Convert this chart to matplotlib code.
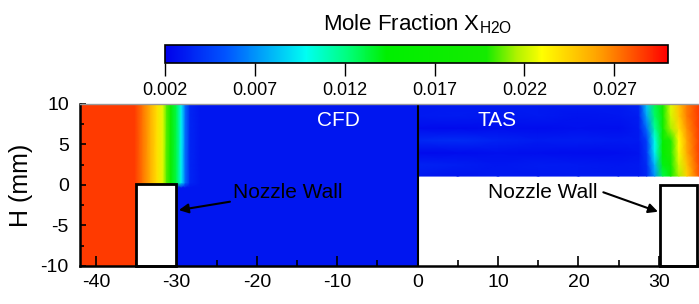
import numpy as np
import matplotlib
matplotlib.use("Agg")
import matplotlib.pyplot as plt
import matplotlib.colors as mcolors
import matplotlib.patches as mpatches
from matplotlib.ticker import MultipleLocator

plt.rcParams["font.family"] = ["Liberation Sans", "DejaVu Sans"]
plt.rcParams["axes.unicode_minus"] = False

# ── Data ──────────────────────────────────────────────────────────────────────
VMIN, VMAX = 0.002, 0.030
CBAR_TICKS = [0.002, 0.007, 0.012, 0.017, 0.022, 0.027]

# CFD half: columns along x, two profiles (below / above the nozzle lip)
cfd_x = [-42, -35.2, -34.2, -33.2, -32.4, -31.7, -31.2, -30.7, -30.0,
         -29.4, -28.9, -28.3, -27.0, 0]
cfd_y = [-10, -0.3, 0.3, 10]
cfd_above = [0.0286, 0.0286, 0.0272, 0.0255, 0.0240, 0.0225, 0.0205, 0.0180,
             0.0130, 0.0095, 0.0060, 0.0035, 0.0029, 0.0029]
cfd_below = [0.0286, 0.0286, 0.0286, 0.0286, 0.0286, 0.0286, 0.0286, 0.0029,
             0.0029, 0.0029, 0.0029, 0.0029, 0.0029, 0.0029]

# TAS half: measured region above y = 1.1 mm
tas_x = [0, 5, 10, 15, 20, 25, 27.5, 28.5, 29.5, 30.5, 31.5, 32.5, 33.5, 35]
tas_y = [1.1, 2.5, 4.0, 5.5, 7.0, 8.5, 10]
tas_rows = [
    [0.0030, 0.0028, 0.0030, 0.0029, 0.0030, 0.0030, 0.0030, 0.0035, 0.0070, 0.0130, 0.0180, 0.0215, 0.0245, 0.0280],
    [0.0034, 0.0032, 0.0029, 0.0031, 0.0030, 0.0029, 0.0030, 0.0038, 0.0080, 0.0140, 0.0190, 0.0222, 0.0250, 0.0283],
    [0.0024, 0.0025, 0.0027, 0.0026, 0.0025, 0.0026, 0.0028, 0.0042, 0.0095, 0.0155, 0.0200, 0.0228, 0.0258, 0.0285],
    [0.0036, 0.0038, 0.0034, 0.0031, 0.0032, 0.0030, 0.0030, 0.0045, 0.0100, 0.0160, 0.0200, 0.0230, 0.0260, 0.0285],
    [0.0025, 0.0024, 0.0026, 0.0025, 0.0027, 0.0026, 0.0030, 0.0060, 0.0115, 0.0175, 0.0215, 0.0240, 0.0265, 0.0286],
    [0.0030, 0.0031, 0.0029, 0.0030, 0.0028, 0.0029, 0.0032, 0.0075, 0.0125, 0.0182, 0.0222, 0.0248, 0.0270, 0.0286],
    [0.0029, 0.0030, 0.0031, 0.0030, 0.0030, 0.0030, 0.0035, 0.0085, 0.0130, 0.0185, 0.0225, 0.0250, 0.0270, 0.0286],
]

# Nozzle walls (x0, x1, top)
wall_cfd = (-35.0, -30.0, 0.1)
wall_tas = (30.1, 34.8, 0.0)

# ── Colormap (Tecplot-like rainbow) ───────────────────────────────────────────
cmap = mcolors.LinearSegmentedColormap.from_list("rainbow_tp", [
    (0.00, (0.00, 0.00, 0.92)),
    (0.12, (0.00, 0.33, 1.00)),
    (0.28, (0.00, 1.00, 0.95)),
    (0.36, (0.00, 1.00, 0.50)),
    (0.44, (0.00, 0.94, 0.00)),
    (0.64, (0.08, 0.92, 0.00)),
    (0.70, (0.70, 0.95, 0.00)),
    (0.75, (1.00, 1.00, 0.00)),
    (0.87, (1.00, 0.60, 0.00)),
    (1.00, (1.00, 0.00, 0.00)),
], N=512)
norm = mcolors.Normalize(vmin=VMIN, vmax=VMAX)

# ── Figure ────────────────────────────────────────────────────────────────────
fig = plt.figure(figsize=(6.99, 3.04), dpi=100)
ax = fig.add_axes([0.1144, 0.125, 0.8856, 0.533])

Xc, Yc = np.meshgrid(cfd_x, cfd_y)
Cc = np.array([cfd_below, cfd_below, cfd_above, cfd_above])
ax.pcolormesh(Xc, Yc, Cc, cmap=cmap, norm=norm, shading="gouraud", zorder=1)

Xt, Yt = np.meshgrid(tas_x, tas_y)
ax.pcolormesh(Xt, Yt, np.array(tas_rows), cmap=cmap, norm=norm,
              shading="gouraud", zorder=1)

for x0, x1, top in (wall_cfd, wall_tas):
    ax.add_patch(mpatches.Rectangle((x0, -10), x1 - x0, top + 10,
                                    facecolor="white", edgecolor="black",
                                    lw=2.0, zorder=3, clip_on=False))

ax.axvline(0, color="black", lw=1.5, zorder=4)

ax.set_xlim(-42, 35)
ax.set_ylim(-10, 10)
ax.xaxis.set_major_locator(MultipleLocator(10))
ax.xaxis.set_minor_locator(MultipleLocator(5))
ax.yaxis.set_major_locator(MultipleLocator(5))
ax.yaxis.set_minor_locator(MultipleLocator(2.5))
ax.tick_params(axis="both", which="both", direction="in", labelsize=14,
               top=False, right=False, width=1.2, zorder=5)
ax.tick_params(axis="x", which="major", length=7, pad=6)
ax.tick_params(axis="x", which="minor", length=4)
ax.tick_params(axis="y", which="major", length=4, pad=8)
ax.tick_params(axis="y", which="minor", length=3)

ax.spines["right"].set_visible(False)
ax.spines["top"].set_color("#999999")
ax.spines["top"].set_linewidth(1.0)
ax.spines["left"].set_linewidth(1.8)
ax.spines["bottom"].set_linewidth(1.8)
for s in ax.spines.values():
    s.set_zorder(6)

fig.text(0.030, 0.391, "H (mm)", rotation=90, ha="center", va="center",
         fontsize=18)

ax.text(-9.8, 7.9, "CFD", color="white", fontsize=15, ha="center",
        va="center", zorder=5)
ax.text(9.9, 8.0, "TAS", color="white", fontsize=15, ha="center",
        va="center", zorder=5)

arrow = dict(arrowstyle="-|>", color="black", lw=1.5, mutation_scale=14,
             shrinkA=0, shrinkB=0)
ax.annotate("Nozzle Wall", xy=(-29.7, -3.1), xytext=(-23.0, -0.9),
            ha="left", va="center", fontsize=15, arrowprops=arrow, zorder=5)
ax.annotate("Nozzle Wall", xy=(29.9, -3.3), xytext=(8.8, -0.9),
            ha="left", va="center", fontsize=15, zorder=5)
ax.annotate("", xy=(29.9, -3.3), xytext=(23.1, -0.9), arrowprops=arrow,
            zorder=5)

# ── Colorbar ──────────────────────────────────────────────────────────────────
cax = fig.add_axes([0.236, 0.793, 0.720, 0.059])
sm = plt.cm.ScalarMappable(norm=norm, cmap=cmap)
cb = fig.colorbar(sm, cax=cax, orientation="horizontal")
cb.set_ticks(CBAR_TICKS)
cb.ax.set_xticklabels([f"{t:.3f}" for t in CBAR_TICKS])
cb.ax.tick_params(labelsize=13, length=9, width=1.0, direction="out", pad=5)
cb.outline.set_linewidth(1.2)
fig.text(0.598, 0.901, r"Mole Fraction X$_{\mathregular{H2O}}$", ha="center",
         va="baseline", fontsize=16)

fig.savefig("out.png", dpi=100)
